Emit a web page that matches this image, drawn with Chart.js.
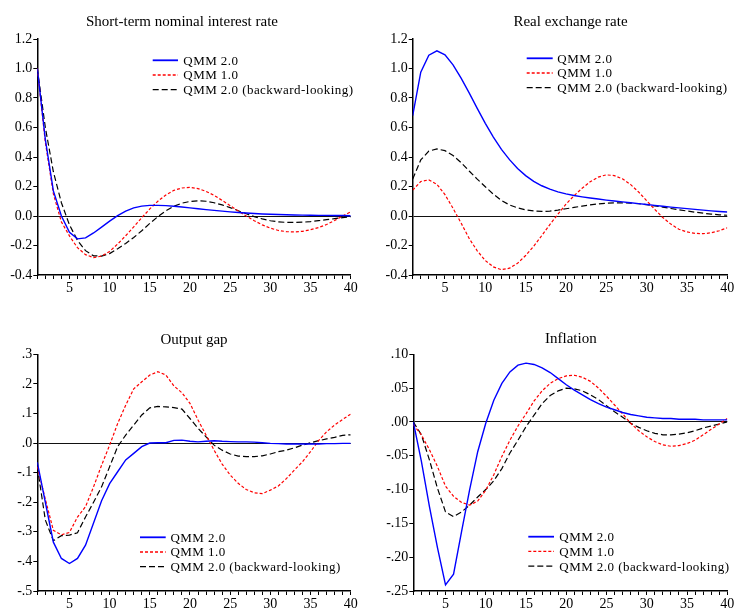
<!DOCTYPE html>
<html>
<head>
<meta charset="utf-8">
<script src="https://cdn.jsdelivr.net/npm/chart.js@4/dist/chart.umd.min.js"></script>
<style>
  html, body { margin: 0; padding: 0; background: #fff; }
  body { width: 736px; height: 611px; position: relative; overflow: hidden; }
  canvas { position: absolute; }
</style>
</head>
<body>
<canvas id="c1" width="368" height="305" style="left:0px;top:0px"></canvas>
<canvas id="c2" width="366" height="305" style="left:370px;top:0px"></canvas>
<canvas id="c3" width="368" height="306" style="left:0px;top:305px"></canvas>
<canvas id="c4" width="366" height="306" style="left:370px;top:305px"></canvas>
<script>
// ---------- data ----------
const periods = Array.from({length: 40}, (_, i) => i + 1);
const seriesNames = ['QMM 2.0', 'QMM 1.0', 'QMM 2.0 (backward-looking)'];
const panelTitles = ['Short-term nominal interest rate', 'Real exchange rate', 'Output gap', 'Inflation'];

// Short-term nominal interest rate
const rateQMM2 = [1.0, 0.52, 0.17, 0.0, -0.11, -0.155, -0.148, -0.115, -0.075, -0.035, 0.003, 0.033, 0.055, 0.067, 0.072, 0.072, 0.07, 0.066, 0.061, 0.055, 0.049, 0.043, 0.038, 0.033, 0.028, 0.024, 0.02, 0.017, 0.014, 0.012, 0.01, 0.008, 0.007, 0.006, 0.005, 0.004, 0.004, 0.003, 0.003, 0.002];
const rateQMM1 = [1.0, 0.5, 0.15, -0.04, -0.135, -0.215, -0.262, -0.282, -0.272, -0.24, -0.19, -0.134, -0.074, -0.012, 0.048, 0.1, 0.143, 0.174, 0.19, 0.194, 0.186, 0.167, 0.14, 0.106, 0.07, 0.034, 0.0, -0.032, -0.06, -0.082, -0.098, -0.106, -0.108, -0.104, -0.093, -0.078, -0.058, -0.03, 0.0, 0.028];
const rateQMM2bl = [1.0, 0.6, 0.3, 0.09, -0.06, -0.165, -0.235, -0.27, -0.272, -0.255, -0.222, -0.186, -0.146, -0.1, -0.05, -0.005, 0.035, 0.066, 0.087, 0.099, 0.103, 0.1, 0.09, 0.075, 0.057, 0.036, 0.015, -0.004, -0.02, -0.032, -0.04, -0.043, -0.044, -0.042, -0.038, -0.032, -0.025, -0.018, -0.011, -0.005];

// Real exchange rate
const rerQMM2 = [0.68, 0.975, 1.09, 1.12, 1.093, 1.025, 0.935, 0.835, 0.73, 0.628, 0.535, 0.452, 0.382, 0.322, 0.274, 0.235, 0.205, 0.182, 0.164, 0.15, 0.139, 0.13, 0.122, 0.115, 0.108, 0.102, 0.096, 0.09, 0.084, 0.078, 0.072, 0.066, 0.06, 0.055, 0.05, 0.045, 0.04, 0.035, 0.031, 0.027];
const rerQMM1 = [0.175, 0.234, 0.245, 0.215, 0.145, 0.052, -0.048, -0.152, -0.236, -0.302, -0.345, -0.364, -0.354, -0.32, -0.268, -0.205, -0.133, -0.058, 0.012, 0.08, 0.138, 0.188, 0.232, 0.264, 0.279, 0.274, 0.252, 0.214, 0.163, 0.104, 0.045, -0.01, -0.055, -0.09, -0.108, -0.118, -0.12, -0.114, -0.1, -0.08];
const rerQMM2bl = [0.25, 0.38, 0.44, 0.455, 0.443, 0.41, 0.362, 0.305, 0.25, 0.198, 0.148, 0.105, 0.075, 0.055, 0.042, 0.034, 0.031, 0.033, 0.04, 0.049, 0.058, 0.067, 0.075, 0.082, 0.087, 0.089, 0.089, 0.087, 0.083, 0.077, 0.069, 0.06, 0.051, 0.042, 0.034, 0.026, 0.019, 0.013, 0.008, 0.005];

// Output gap
const gapQMM2 = [-0.065, -0.2, -0.335, -0.39, -0.407, -0.39, -0.345, -0.27, -0.195, -0.137, -0.097, -0.057, -0.035, -0.012, 0.0, 0.001, 0.001, 0.009, 0.01, 0.006, 0.004, 0.006, 0.008, 0.006, 0.005, 0.004, 0.004, 0.003, 0.001, -0.001, -0.002, -0.003, -0.003, -0.003, -0.003, -0.003, -0.002, -0.002, -0.001, -0.001];
const gapQMM1 = [-0.08, -0.19, -0.295, -0.31, -0.302, -0.25, -0.215, -0.148, -0.075, -0.007, 0.066, 0.128, 0.183, 0.207, 0.23, 0.241, 0.23, 0.193, 0.17, 0.134, 0.078, 0.027, -0.024, -0.071, -0.108, -0.136, -0.157, -0.168, -0.171, -0.159, -0.145, -0.12, -0.091, -0.063, -0.029, 0.008, 0.038, 0.061, 0.08, 0.098];
const gapQMM2bl = [-0.08, -0.26, -0.33, -0.313, -0.311, -0.303, -0.25, -0.2, -0.148, -0.08, -0.012, 0.027, 0.061, 0.095, 0.119, 0.124, 0.122, 0.12, 0.115, 0.083, 0.05, 0.021, -0.007, -0.024, -0.037, -0.044, -0.046, -0.046, -0.043, -0.037, -0.029, -0.024, -0.016, -0.007, 0.001, 0.008, 0.014, 0.019, 0.026, 0.028];

// Inflation
const infQMM2 = [0.0, -0.058, -0.125, -0.186, -0.241, -0.225, -0.162, -0.1, -0.044, -0.002, 0.032, 0.057, 0.074, 0.084, 0.087, 0.085, 0.08, 0.073, 0.064, 0.055, 0.047, 0.04, 0.033, 0.027, 0.022, 0.018, 0.014, 0.011, 0.009, 0.007, 0.006, 0.005, 0.005, 0.004, 0.004, 0.004, 0.003, 0.003, 0.003, 0.003];
const infQMM1 = [-0.004, -0.019, -0.041, -0.066, -0.095, -0.11, -0.119, -0.123, -0.117, -0.101, -0.078, -0.051, -0.027, -0.006, 0.012, 0.031, 0.046, 0.057, 0.064, 0.068, 0.069, 0.066, 0.06, 0.05, 0.038, 0.025, 0.012, -0.002, -0.013, -0.022, -0.029, -0.034, -0.036, -0.035, -0.032, -0.027, -0.019, -0.011, -0.003, 0.005];
const infQMM2bl = [0.0, -0.019, -0.056, -0.098, -0.133, -0.14, -0.133, -0.123, -0.111, -0.1, -0.087, -0.069, -0.046, -0.027, -0.007, 0.01, 0.027, 0.039, 0.046, 0.05, 0.049, 0.046, 0.04, 0.033, 0.024, 0.015, 0.007, -0.002, -0.008, -0.013, -0.017, -0.019, -0.019, -0.018, -0.016, -0.013, -0.009, -0.006, -0.003, 0.0];

// y-axis ranges and tick label formats
const yRanges = [
  {min: -0.4, max: 1.2, step: 0.2, fmt: 'lead1'},
  {min: -0.4, max: 1.2, step: 0.2, fmt: 'lead1'},
  {min: -0.5, max: 0.3, step: 0.1, fmt: 'nolead1'},
  {min: -0.25, max: 0.10, step: 0.05, fmt: 'nolead2'}
];

// ---------- rendering ----------
const FONT = '"Liberation Serif", "Times New Roman", serif';
const styles = [
  {color: '#0000ff', dash: [], width: 1.4},
  {color: '#ff0000', dash: [3, 2], width: 1.2},
  {color: '#000000', dash: [6, 3], width: 1.2}
];

function fmtTick(v, fmt) {
  if (Math.abs(v) < 1e-9) v = 0;
  if (fmt === 'lead1') return v.toFixed(1);
  let s = v.toFixed(fmt === 'nolead2' ? 2 : 1);
  return s.replace(/^(-?)0\./, '$1.');
}

const decoPlugin = {
  id: 'deco',
  afterDraw(chart, args, o) {
    const ctx = chart.ctx;
    ctx.save();
    ctx.fillStyle = '#000';
    ctx.font = '15px ' + FONT;
    ctx.textAlign = 'center';
    ctx.textBaseline = 'alphabetic';
    ctx.fillText(o.title, o.titleX, o.titleY);
    // legend
    ctx.font = '13px ' + FONT;
    try { ctx.letterSpacing = '0.45px'; } catch (e) {}
    ctx.textAlign = 'left';
    ctx.textBaseline = 'middle';
    seriesNames.forEach((name, i) => {
      const y = o.legY + i * 14.7;
      ctx.beginPath();
      ctx.strokeStyle = styles[i].color;
      ctx.lineWidth = i === 0 ? 1.8 : 1.3;
      ctx.setLineDash(styles[i].dash);
      ctx.moveTo(o.legX1, y);
      ctx.lineTo(o.legX2, y);
      ctx.stroke();
      ctx.setLineDash([]);
      ctx.fillText(name, o.legTX, y + 1);
    });
    ctx.restore();
  }
};

function makeChart(id, series, yr, deco, layout) {
  const datasets = series.map((vals, i) => ({
    label: seriesNames[i],
    data: periods.map((p, k) => ({x: p, y: vals[k]})),
    borderColor: styles[i].color,
    borderDash: styles[i].dash,
    borderWidth: styles[i].width,
    pointRadius: 0,
    tension: 0,
    fill: false
  }));
  return new Chart(document.getElementById(id), {
    type: 'line',
    data: {datasets},
    options: {
      responsive: false,
      animation: false,
      devicePixelRatio: 1,
      layout: {padding: {left: 0, right: layout.right, top: layout.top, bottom: 0}},
      plugins: {legend: {display: false}, tooltip: {enabled: false}, title: {display: false}, deco},
      scales: {
        x: {
          type: 'linear', min: 1, max: 40,
          afterBuildTicks(s) { s.ticks = periods.map(v => ({value: v})); },
          afterFit(s) { s.height = layout.xh; },
          ticks: {
            autoSkip: false, maxRotation: 0, padding: 1, color: '#000',
            font: {family: FONT, size: 14},
            callback: v => (v % 5 === 0 ? String(v) : '')
          },
          grid: {drawOnChartArea: false, tickLength: 4, tickColor: '#000', tickWidth: 1},
          border: {display: true, color: '#000', width: 1.5}
        },
        y: {
          min: yr.min, max: yr.max,
          afterFit(s) { s.width = layout.yw; },
          ticks: {
            stepSize: yr.step, padding: 1, color: '#000',
            font: {family: FONT, size: 14},
            callback: v => fmtTick(v, yr.fmt)
          },
          grid: {
            drawOnChartArea: true, tickLength: 4, tickColor: '#000', tickWidth: 1,
            color: c => (c.tick && Math.abs(c.tick.value) < 1e-9 ? '#111' : 'rgba(0,0,0,0)'),
            lineWidth: 1
          },
          border: {display: true, color: '#000', width: 1.5}
        }
      }
    },
    plugins: [decoPlugin]
  });
}

makeChart('c1', [rateQMM2, rateQMM1, rateQMM2bl], yRanges[0],
  {title: panelTitles[0], titleX: 182, titleY: 26, legX1: 152.7, legX2: 178, legTX: 183.3, legY: 60.3},
  {right: 17.3, top: 39, yw: 37.3, xh: 30});
makeChart('c2', [rerQMM2, rerQMM1, rerQMM2bl], yRanges[1],
  {title: panelTitles[1], titleX: 200.5, titleY: 26, legX1: 156.7, legX2: 182.7, legTX: 187.3, legY: 58.3},
  {right: 8.7, top: 39, yw: 42.7, xh: 30});
makeChart('c3', [gapQMM2, gapQMM1, gapQMM2bl], yRanges[2],
  {title: panelTitles[2], titleX: 194, titleY: 38.5, legX1: 140, legX2: 165.7, legTX: 170.5, legY: 232.3},
  {right: 17.3, top: 49.3, yw: 37.3, xh: 20});
makeChart('c4', [infQMM2, infQMM1, infQMM2bl], yRanges[3],
  {title: panelTitles[3], titleX: 200.8, titleY: 37.5, legX1: 158.3, legX2: 184, legTX: 189.3, legY: 231.7},
  {right: 8.7, top: 49.3, yw: 43.3, xh: 20});
</script>
</body>
</html>
